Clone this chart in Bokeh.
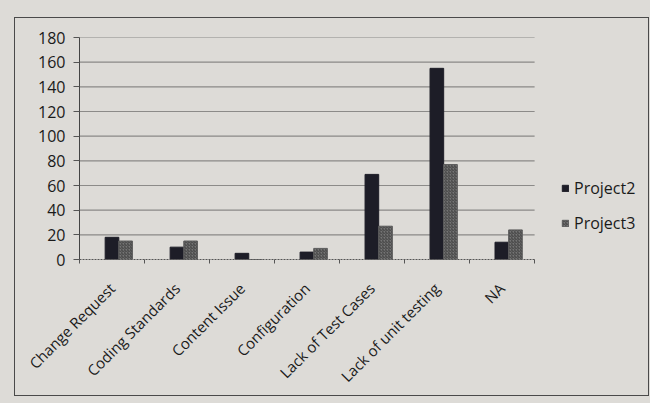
from math import radians
from bokeh.plotting import figure
from bokeh.layouts import column
from bokeh.models import (ColumnDataSource, Range1d, FixedTicker, Legend, LegendItem)
from bokeh.embed import file_html
from bokeh.resources import INLINE

categories = ["Change Request", "Coding Standards", "Content Issue", "Configuration",
              "Lack of Test Cases", "Lack of unit testing", "NA"]
project2 = [18, 10, 5, 6, 69, 155, 14]
project3 = [15, 15, 0, 9, 27, 77, 24]
y_ticks = [0, 20, 40, 60, 80, 100, 120, 140, 160, 180]

BG = "#dddbd7"
DARK = "#1d1d27"
GREY = "#747474"
FONT = "Open Sans"

n = len(categories)
centers = [i + 0.5 for i in range(n)]
BW = 0.21
src = ColumnDataSource(dict(
    x2=[c for c in centers],
    x3=[c + BW for c in centers],
    p2=project2,
    p3=project3,
))

# frame extends under the legend area; the category axis spans 0..n (about 454 of 560 px)
x_end = n * 560 / 454

p = figure(width=635, height=379, output_backend="svg", toolbar_location=None,
           x_range=Range1d(0, x_end), y_range=Range1d(0, 180),
           min_border_left=64, min_border_right=10, min_border_top=19, min_border_bottom=138,
           background_fill_color=BG, border_fill_color=BG)
p.margin = (17, 0, 0, 14)
p.styles = {"border": "1px solid #4a4a4a"}
p.outline_line_color = None
p.grid.grid_line_color = None

# horizontal gridlines, limited to the category span
p.segment(x0=0, x1=n, y0=y_ticks[1:], y1=y_ticks[1:], line_color="#3a3a3a",
          line_dash="1 1", line_width=1.2)

r2 = p.vbar(x="x2", top="p2", width=BW, source=src, fill_color=DARK, line_color=DARK)
r3 = p.vbar(x="x3", top="p3", width=BW, source=src, fill_color=GREY, line_color="#5e5e5e",
            hatch_pattern="right_diagonal_line", hatch_color="#444444", hatch_scale=3,
            hatch_weight=1)

# y axis
p.yaxis.ticker = FixedTicker(ticks=y_ticks)
p.yaxis.axis_line_color = "#444444"
p.yaxis.major_tick_in = 0
p.yaxis.major_tick_out = 6
p.yaxis.major_tick_line_color = "#555555"
p.yaxis.minor_tick_line_color = None
p.yaxis.major_label_text_font = FONT
p.yaxis.major_label_text_font_size = "16px"
p.yaxis.major_label_text_color = "#1a1a1a"
p.yaxis.major_label_standoff = 8

# x axis
p.xaxis.bounds = (0, n)
p.xaxis.ticker = FixedTicker(ticks=centers, minor_ticks=list(range(n + 1)))
p.xaxis.major_label_overrides = {c: name for c, name in zip(centers, categories)}
p.xaxis.major_tick_line_color = None
p.xaxis.minor_tick_in = 0
p.xaxis.minor_tick_out = 4
p.xaxis.minor_tick_line_color = "#555555"
p.xaxis.axis_line_color = "#555555"
p.xaxis.axis_line_dash = "2 1"
p.xaxis.major_label_orientation = radians(45)
p.xaxis.major_label_text_font = FONT
p.xaxis.major_label_text_font_size = "15px"
p.xaxis.major_label_text_color = "#1a1a1a"
p.xaxis.major_label_standoff = 20

legend = Legend(items=[LegendItem(label="Project2", renderers=[r2]),
                       LegendItem(label="Project3", renderers=[r3])],
                location=(482, 25), orientation="vertical")
legend.background_fill_alpha = 0
legend.border_line_color = None
legend.padding = 0
legend.margin = 0
legend.glyph_width = 8
legend.glyph_height = 8
legend.label_text_font = FONT
legend.label_text_font_size = "16px"
legend.label_text_color = "#1a1a1a"
legend.label_standoff = 5
legend.spacing = 13
p.add_layout(legend, "center")

root = column(p, width=650, height=403, styles={"background-color": BG})

open("out.html", "w").write(file_html(root, INLINE))
